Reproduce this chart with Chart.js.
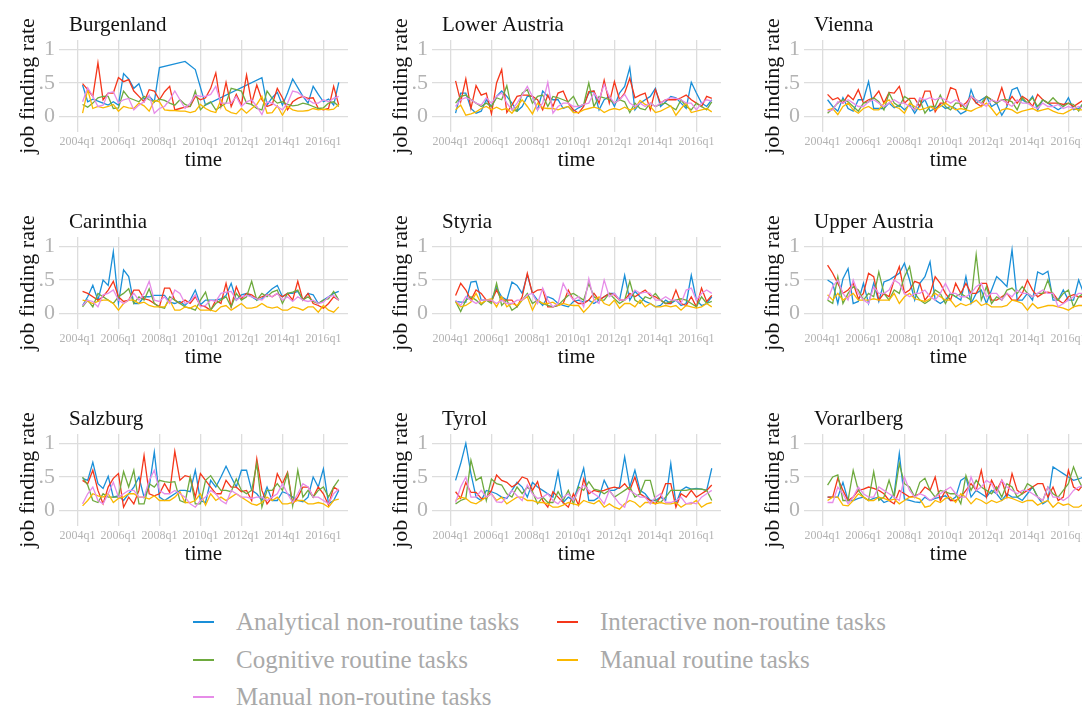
<!DOCTYPE html>
<html>
<head>
<meta charset="utf-8">
<title>Job finding rate by task type and region</title>
<script src="https://cdn.jsdelivr.net/npm/chart.js@4.4.1/dist/chart.umd.min.js"></script>
<style>
  body { margin: 0; background: #fff; width: 1082px; height: 706px; overflow: hidden; position: relative; font-family: 'Liberation Serif', serif; }
  canvas.panel { position: absolute; }
  .leg { position: absolute; display: flex; align-items: center; height: 34px; margin-top: -17px; font-size: 25px; color: #a9a9a9; white-space: nowrap; }
  .leg span.swatch { display: inline-block; width: 21px; height: 2px; margin-right: 22px; }
</style>
</head>
<body>
<script>
const regions = ['Burgenland', 'Lower Austria', 'Vienna', 'Carinthia', 'Styria', 'Upper Austria', 'Salzburg', 'Tyrol', 'Vorarlberg'];
const taskTypes = ['Analytical non-routine tasks', 'Interactive non-routine tasks', 'Cognitive routine tasks', 'Manual routine tasks', 'Manual non-routine tasks'];
const taskColors = ['#1a8fd8', '#f5361a', '#6eaa3e', '#fab800', '#e68ce8'];
const firstQuarter = '2004q2';
const xTickLabels = ['2004q1', '2006q1', '2008q1', '2010q1', '2012q1', '2014q1', '2016q1'];
const yTicks = [0, 0.5, 1];
const yTickLabels = ['0', '.5', '1'];

// Burgenland
const bgAnalytical = [0.47, 0.22, 0.26, 0.23, 0.20, 0.17, 0.22,
  0.17, 0.64, 0.56, 0.42, 0.49, 0.26, 0.30, 0.22,
  0.73, null, null, null, null, 0.82, null, 0.70,
  null, 0.17, null, null, null, null, null, null,
  null, null, null, null, 0.58, 0.17, 0.28, 0.36,
  0.17, 0.35, 0.56, 0.43, 0.30, 0.20, 0.45, 0.33,
  0.22, 0.26, 0.17, 0.51];
const bgInteractive = [0.49, 0.40, 0.30, 0.80, 0.25, 0.35, 0.35,
  0.58, 0.52, 0.55, 0.38, 0.30, 0.22, 0.40, 0.38,
  0.25, 0.37, 0.45, 0.10, 0.12, 0.14, 0.15, 0.30,
  0.25, 0.28, 0.42, 0.65, 0.15, 0.51, 0.15, 0.33,
  0.17, 0.62, 0.20, 0.47, 0.25, 0.15, 0.18, 0.42,
  0.28, 0.10, 0.22, 0.27, 0.30, 0.27, 0.28, 0.12,
  0.10, 0.12, 0.45, 0.17];
const bgCognitive = [0.18, 0.14, 0.20, 0.28, 0.30, 0.30, 0.12,
  0.13, 0.38, 0.28, 0.25, 0.22, 0.30, 0.25, 0.22,
  0.26, 0.24, 0.20, 0.17, 0.25, 0.18, 0.15, 0.38,
  0.10, 0.18, 0.22, 0.10, 0.15, 0.20, 0.42, 0.40,
  0.38, 0.20, 0.18, 0.12, 0.10, 0.38, 0.27, 0.20,
  0.22, 0.18, 0.16, 0.17, 0.20, 0.18, 0.15, 0.12,
  0.13, 0.20, 0.22, 0.15];
const bgManualRoutine = [0.05, 0.40, 0.12, 0.15, 0.13, 0.15, 0.18,
  0.08, 0.15, 0.13, 0.12, 0.20, 0.16, 0.08, 0.24,
  0.22, 0.10, 0.09, 0.09, 0.08, 0.08, 0.06, 0.08,
  0.18, 0.12, 0.08, 0.06, 0.25, 0.10, 0.06, 0.04,
  0.12, 0.05, 0.12, 0.18, 0.30, 0.05, 0.06, 0.16,
  0.02, 0.15, 0.10, 0.08, 0.08, 0.09, 0.12, 0.10,
  0.11, 0.10, 0.11, 0.18];
const bgManualNonRoutine = [0.22, 0.43, 0.30, 0.15, 0.17, 0.35, 0.37,
  0.20, 0.25, 0.27, 0.10, 0.17, 0.22, 0.32, 0.05,
  0.12, 0.15, 0.25, 0.38, 0.25, 0.12, 0.20, 0.32,
  0.30, 0.30, 0.33, 0.45, 0.20, 0.20, 0.20, 0.30,
  0.15, 0.22, 0.25, 0.15, 0.03, 0.22, 0.20, 0.15,
  0.10, 0.20, 0.38, 0.36, 0.30, 0.25, 0.20, 0.20,
  0.25, 0.22, 0.27, 0.30];

// Lower Austria
const loAnalytical = [0.05, 0.35, 0.35, 0.12, 0.05, 0.08, 0.25,
  0.15, 0.30, 0.38, 0.30, 0.20, 0.08, 0.15, 0.30,
  0.30, 0.10, 0.38, 0.30, 0.25, 0.25, 0.12, 0.15,
  0.08, 0.13, 0.17, 0.35, 0.38, 0.10, 0.25, 0.30,
  0.15, 0.35, 0.45, 0.73, 0.10, 0.20, 0.25, 0.30,
  0.42, 0.15, 0.22, 0.30, 0.28, 0.20, 0.12, 0.51,
  0.35, 0.20, 0.15, 0.25];
const loInteractive = [0.53, 0.22, 0.56, 0.12, 0.46, 0.32, 0.35,
  0.04, 0.50, 0.70, 0.06, 0.17, 0.30, 0.32, 0.32,
  0.30, 0.25, 0.10, 0.32, 0.15, 0.35, 0.38, 0.20,
  0.10, 0.05, 0.15, 0.37, 0.38, 0.20, 0.54, 0.20,
  0.52, 0.25, 0.35, 0.57, 0.28, 0.32, 0.35, 0.10,
  0.40, 0.20, 0.25, 0.25, 0.25, 0.28, 0.32, 0.25,
  0.20, 0.15, 0.30, 0.27];
const loCognitive = [0.20, 0.30, 0.32, 0.25, 0.20, 0.15, 0.20,
  0.15, 0.28, 0.25, 0.46, 0.10, 0.08, 0.35, 0.40,
  0.20, 0.30, 0.32, 0.15, 0.30, 0.28, 0.25, 0.22,
  0.30, 0.15, 0.18, 0.50, 0.15, 0.30, 0.28, 0.25,
  0.20, 0.25, 0.22, 0.06, 0.20, 0.12, 0.10, 0.20,
  0.15, 0.18, 0.20, 0.15, 0.10, 0.25, 0.15, 0.10,
  0.20, 0.15, 0.10, 0.22];
const loManualRoutine = [0.10, 0.17, 0.02, 0.04, 0.07, 0.12, 0.15,
  0.10, 0.14, 0.10, 0.12, 0.05, 0.15, 0.25, 0.15,
  0.04, 0.20, 0.13, 0.12, 0.12, 0.10, 0.13, 0.15,
  0.06, 0.06, 0.10, 0.12, 0.14, 0.12, 0.06, 0.10,
  0.12, 0.10, 0.14, 0.10, 0.12, 0.24, 0.18, 0.15,
  0.06, 0.08, 0.12, 0.16, 0.02, 0.12, 0.20, 0.06,
  0.08, 0.10, 0.12, 0.07];
const loManualNonRoutine = [0.15, 0.25, 0.28, 0.25, 0.20, 0.17, 0.28,
  0.20, 0.30, 0.35, 0.20, 0.10, 0.20, 0.32, 0.45,
  0.30, 0.10, 0.20, 0.51, 0.05, 0.15, 0.20, 0.20,
  0.15, 0.15, 0.18, 0.20, 0.35, 0.25, 0.48, 0.30,
  0.20, 0.25, 0.33, 0.20, 0.15, 0.20, 0.15, 0.20,
  0.15, 0.20, 0.25, 0.28, 0.27, 0.25, 0.20, 0.20,
  0.10, 0.20, 0.25, 0.23];

// Vienna
const viAnalytical = [0.25, 0.15, 0.08, 0.28, 0.12, 0.08, 0.25,
  0.25, 0.52, 0.12, 0.12, 0.12, 0.20, 0.13, 0.17,
  0.10, 0.18, 0.05, 0.17, 0.25, 0.08, 0.12, 0.18,
  0.12, 0.15, 0.12, 0.04, 0.08, 0.40, 0.20, 0.25,
  0.30, 0.15, 0.20, 0.02, 0.15, 0.40, 0.43, 0.25,
  0.20, 0.30, 0.10, 0.25, 0.20, 0.15, 0.10, 0.15,
  0.28, 0.10, 0.12, 0.20];
const viInteractive = [0.33, 0.25, 0.28, 0.20, 0.32, 0.25, 0.40,
  0.20, 0.25, 0.28, 0.38, 0.20, 0.36, 0.35, 0.45,
  0.20, 0.27, 0.27, 0.15, 0.38, 0.38, 0.07, 0.20,
  0.20, 0.43, 0.40, 0.15, 0.20, 0.30, 0.20, 0.15,
  0.30, 0.25, 0.20, 0.43, 0.18, 0.30, 0.20, 0.30,
  0.25, 0.15, 0.33, 0.25, 0.20, 0.20, 0.20, 0.18,
  0.20, 0.15, 0.20, 0.25];
const viCognitive = [0.05, 0.12, 0.20, 0.25, 0.22, 0.15, 0.08,
  0.20, 0.22, 0.28, 0.22, 0.10, 0.35, 0.20, 0.15,
  0.30, 0.25, 0.10, 0.25, 0.05, 0.15, 0.15, 0.32,
  0.15, 0.10, 0.20, 0.20, 0.10, 0.30, 0.25, 0.20,
  0.30, 0.25, 0.20, 0.25, 0.25, 0.22, 0.10, 0.28,
  0.20, 0.28, 0.15, 0.25, 0.20, 0.28, 0.20, 0.15,
  0.20, 0.18, 0.08, 0.22];
const viManualRoutine = [0.10, 0.12, 0.03, 0.15, 0.20, 0.10, 0.05,
  0.12, 0.15, 0.10, 0.10, 0.20, 0.25, 0.15, 0.12,
  0.05, 0.20, 0.15, 0.10, 0.12, 0.15, 0.10, 0.15,
  0.20, 0.15, 0.10, 0.12, 0.10, 0.08, 0.12, 0.15,
  0.20, 0.12, 0.02, 0.10, 0.12, 0.10, 0.05, 0.08,
  0.10, 0.12, 0.08, 0.10, 0.12, 0.08, 0.05, 0.04,
  0.08, 0.12, 0.10, 0.10];
const viManualNonRoutine = [0.08, 0.10, 0.22, 0.20, 0.25, 0.20, 0.15,
  0.15, 0.22, 0.25, 0.20, 0.15, 0.20, 0.25, 0.20,
  0.20, 0.15, 0.10, 0.28, 0.25, 0.28, 0.25, 0.28,
  0.25, 0.20, 0.25, 0.20, 0.15, 0.30, 0.25, 0.20,
  0.15, 0.25, 0.22, 0.25, 0.20, 0.15, 0.25, 0.20,
  0.20, 0.15, 0.12, 0.20, 0.15, 0.15, 0.18, 0.12,
  0.15, 0.12, 0.15, 0.12];

// Carinthia
const caAnalytical = [0.12, 0.25, 0.42, 0.20, 0.50, 0.42, 0.92,
  0.15, 0.65, 0.55, 0.15, 0.15, 0.25, 0.25, 0.27,
  0.27, 0.27, 0.17, 0.15, 0.18, 0.12, 0.20, 0.35,
  0.13, 0.20, 0.20, 0.20, 0.22, 0.27, 0.45, 0.20,
  0.28, 0.30, 0.25, 0.20, 0.22, 0.30, 0.37, 0.42,
  0.25, 0.30, 0.30, 0.33, 0.20, 0.30, 0.28, 0.15,
  0.20, 0.25, 0.30, 0.33];
const caInteractive = [0.33, 0.30, 0.25, 0.20, 0.25, 0.35, 0.48,
  0.25, 0.18, 0.20, 0.35, 0.35, 0.22, 0.20, 0.15,
  0.10, 0.38, 0.38, 0.20, 0.15, 0.20, 0.15, 0.25,
  0.12, 0.10, 0.05, 0.20, 0.15, 0.45, 0.10, 0.40,
  0.22, 0.30, 0.28, 0.22, 0.25, 0.28, 0.25, 0.30,
  0.25, 0.30, 0.20, 0.48, 0.20, 0.30, 0.15, 0.12,
  0.08, 0.15, 0.25, 0.20];
const caCognitive = [0.10, 0.20, 0.10, 0.30, 0.25, 0.20, 0.15,
  0.25, 0.30, 0.37, 0.15, 0.25, 0.20, 0.37, 0.15,
  0.10, 0.08, 0.25, 0.20, 0.15, 0.10, 0.08, 0.05,
  0.20, 0.32, 0.05, 0.15, 0.20, 0.25, 0.10, 0.30,
  0.20, 0.25, 0.48, 0.20, 0.30, 0.25, 0.32, 0.35,
  0.15, 0.30, 0.32, 0.35, 0.20, 0.25, 0.18, 0.15,
  0.20, 0.22, 0.33, 0.20];
const caManualRoutine = [0.20, 0.18, 0.15, 0.18, 0.20, 0.20, 0.15,
  0.05, 0.15, 0.20, 0.20, 0.15, 0.17, 0.12, 0.10,
  0.10, 0.10, 0.20, 0.05, 0.05, 0.10, 0.08, 0.12,
  0.05, 0.05, 0.05, 0.03, 0.10, 0.12, 0.05, 0.10,
  0.15, 0.08, 0.08, 0.10, 0.15, 0.10, 0.08, 0.10,
  0.05, 0.05, 0.10, 0.08, 0.05, 0.10, 0.10, 0.02,
  0.12, 0.05, 0.02, 0.10];
const caManualNonRoutine = [0.12, 0.20, 0.18, 0.10, 0.28, 0.30, 0.35,
  0.20, 0.15, 0.20, 0.30, 0.20, 0.30, 0.48, 0.20,
  0.18, 0.25, 0.15, 0.35, 0.30, 0.15, 0.18, 0.28,
  0.10, 0.12, 0.20, 0.18, 0.30, 0.32, 0.33, 0.20,
  0.25, 0.27, 0.25, 0.22, 0.20, 0.28, 0.25, 0.30,
  0.20, 0.25, 0.18, 0.25, 0.20, 0.18, 0.20, 0.15,
  0.17, 0.25, 0.27, 0.20];

// Styria
const stAnalytical = [0.18, 0.17, 0.17, 0.47, 0.48, 0.20, 0.20,
  0.20, 0.38, 0.25, 0.20, 0.47, 0.42, 0.30, 0.58,
  0.30, 0.20, 0.12, 0.25, 0.22, 0.15, 0.12, 0.10,
  0.18, 0.20, 0.17, 0.20, 0.15, 0.20, 0.25, 0.30,
  0.30, 0.20, 0.57, 0.20, 0.33, 0.25, 0.18, 0.15,
  0.10, 0.12, 0.20, 0.15, 0.20, 0.12, 0.15, 0.57,
  0.20, 0.12, 0.15, 0.25];
const stInteractive = [0.27, 0.45, 0.35, 0.20, 0.35, 0.30, 0.20,
  0.18, 0.35, 0.20, 0.20, 0.20, 0.10, 0.25, 0.60,
  0.30, 0.35, 0.36, 0.10, 0.10, 0.12, 0.15, 0.35,
  0.20, 0.15, 0.15, 0.20, 0.30, 0.20, 0.25, 0.30,
  0.28, 0.20, 0.20, 0.30, 0.25, 0.30, 0.35, 0.27,
  0.25, 0.20, 0.15, 0.15, 0.35, 0.15, 0.12, 0.25,
  0.10, 0.38, 0.18, 0.27];
const stCognitive = [0.18, 0.03, 0.20, 0.25, 0.20, 0.13, 0.20,
  0.15, 0.45, 0.12, 0.20, 0.05, 0.10, 0.20, 0.30,
  0.15, 0.20, 0.15, 0.12, 0.10, 0.12, 0.20, 0.27,
  0.30, 0.25, 0.20, 0.45, 0.25, 0.20, 0.20, 0.30,
  0.22, 0.15, 0.20, 0.48, 0.20, 0.15, 0.25, 0.22,
  0.30, 0.20, 0.15, 0.18, 0.20, 0.22, 0.20, 0.15,
  0.10, 0.25, 0.15, 0.18];
const stManualRoutine = [0.17, 0.10, 0.12, 0.17, 0.30, 0.15, 0.20,
  0.22, 0.10, 0.25, 0.10, 0.15, 0.12, 0.20, 0.25,
  0.05, 0.20, 0.15, 0.15, 0.17, 0.12, 0.15, 0.13,
  0.12, 0.12, 0.02, 0.10, 0.20, 0.25, 0.15, 0.12,
  0.20, 0.08, 0.15, 0.15, 0.10, 0.20, 0.10, 0.15,
  0.10, 0.10, 0.12, 0.10, 0.12, 0.05, 0.12, 0.10,
  0.08, 0.10, 0.15, 0.10];
const stManualNonRoutine = [0.20, 0.12, 0.25, 0.20, 0.15, 0.20, 0.20,
  0.20, 0.15, 0.20, 0.15, 0.15, 0.20, 0.20, 0.28,
  0.30, 0.15, 0.38, 0.20, 0.10, 0.15, 0.45, 0.30,
  0.20, 0.25, 0.10, 0.52, 0.20, 0.15, 0.50, 0.25,
  0.30, 0.20, 0.20, 0.25, 0.35, 0.30, 0.32, 0.30,
  0.20, 0.20, 0.25, 0.20, 0.20, 0.15, 0.35, 0.38,
  0.20, 0.30, 0.35, 0.30];

// Upper Austria
const uaAnalytical = [0.50, 0.45, 0.15, 0.52, 0.67, 0.15, 0.18,
  0.45, 0.15, 0.45, 0.18, 0.47, 0.50, 0.55, 0.60,
  0.75, 0.50, 0.20, 0.45, 0.55, 0.77, 0.20, 0.15,
  0.20, 0.30, 0.25, 0.20, 0.55, 0.15, 0.30, 0.35,
  0.15, 0.35, 0.55, 0.48, 0.40, 0.95, 0.20, 0.20,
  0.30, 0.20, 0.62, 0.58, 0.63, 0.20, 0.20, 0.35,
  0.20, 0.20, 0.50, 0.30];
const uaInteractive = [0.72, 0.60, 0.45, 0.30, 0.35, 0.45, 0.22,
  0.30, 0.60, 0.55, 0.20, 0.30, 0.25, 0.50, 0.70,
  0.30, 0.35, 0.48, 0.45, 0.20, 0.30, 0.55, 0.45,
  0.30, 0.20, 0.45, 0.30, 0.45, 0.30, 0.30, 0.45,
  0.45, 0.20, 0.20, 0.25, 0.30, 0.20, 0.20, 0.30,
  0.50, 0.35, 0.25, 0.30, 0.32, 0.30, 0.20, 0.15,
  0.25, 0.28, 0.25, 0.25];
const uaCognitive = [0.20, 0.15, 0.55, 0.15, 0.30, 0.40, 0.35,
  0.20, 0.30, 0.25, 0.62, 0.30, 0.20, 0.35, 0.30,
  0.55, 0.70, 0.30, 0.20, 0.15, 0.20, 0.35, 0.30,
  0.15, 0.30, 0.25, 0.30, 0.25, 0.20, 0.88, 0.20,
  0.40, 0.15, 0.25, 0.20, 0.35, 0.38, 0.30, 0.40,
  0.30, 0.25, 0.30, 0.30, 0.50, 0.25, 0.20, 0.30,
  0.35, 0.10, 0.25, 0.30];
const uaManualRoutine = [0.28, 0.20, 0.30, 0.20, 0.25, 0.30, 0.20,
  0.20, 0.20, 0.22, 0.20, 0.20, 0.20, 0.30, 0.15,
  0.25, 0.30, 0.22, 0.20, 0.18, 0.22, 0.30, 0.25,
  0.20, 0.20, 0.10, 0.15, 0.12, 0.15, 0.20, 0.12,
  0.15, 0.10, 0.10, 0.10, 0.12, 0.20, 0.18, 0.15,
  0.05, 0.15, 0.08, 0.10, 0.12, 0.12, 0.10, 0.08,
  0.05, 0.10, 0.12, 0.12];
const uaManualNonRoutine = [0.20, 0.40, 0.50, 0.30, 0.20, 0.50, 0.30,
  0.20, 0.15, 0.40, 0.30, 0.30, 0.35, 0.50, 0.45,
  0.30, 0.25, 0.30, 0.30, 0.35, 0.25, 0.20, 0.30,
  0.45, 0.30, 0.30, 0.25, 0.25, 0.30, 0.40, 0.45,
  0.25, 0.30, 0.30, 0.20, 0.30, 0.25, 0.35, 0.30,
  0.30, 0.25, 0.30, 0.35, 0.30, 0.30, 0.10, 0.15,
  0.20, 0.25, 0.30, 0.30];

// Salzburg
const saAnalytical = [0.48, 0.45, 0.72, 0.40, 0.33, 0.51, 0.20,
  0.22, 0.15, 0.25, 0.35, 0.50, 0.20, 0.35, 0.87,
  0.20, 0.15, 0.20, 0.25, 0.30, 0.30, 0.28, 0.60,
  0.15, 0.12, 0.45, 0.35, 0.50, 0.66, 0.50, 0.35,
  0.60, 0.60, 0.30, 0.25, 0.15, 0.35, 0.15, 0.15,
  0.28, 0.25, 0.20, 0.15, 0.13, 0.20, 0.50, 0.35,
  0.62, 0.10, 0.15, 0.30];
const saInteractive = [0.45, 0.40, 0.60, 0.30, 0.10, 0.35, 0.48,
  0.55, 0.05, 0.20, 0.10, 0.30, 0.82, 0.25, 0.22,
  0.25, 0.40, 0.27, 0.88, 0.45, 0.52, 0.50, 0.20,
  0.55, 0.45, 0.35, 0.25, 0.25, 0.45, 0.35, 0.35,
  0.28, 0.30, 0.15, 0.77, 0.30, 0.10, 0.20, 0.55,
  0.40, 0.57, 0.10, 0.20, 0.35, 0.35, 0.20, 0.35,
  0.25, 0.08, 0.35, 0.30];
const saCognitive = [0.50, 0.38, 0.15, 0.12, 0.25, 0.20, 0.20,
  0.20, 0.58, 0.35, 0.60, 0.10, 0.10, 0.40, 0.35,
  0.45, 0.43, 0.42, 0.43, 0.15, 0.12, 0.50, 0.10,
  0.10, 0.45, 0.52, 0.40, 0.30, 0.30, 0.28, 0.47,
  0.30, 0.25, 0.30, 0.70, 0.05, 0.30, 0.30, 0.40,
  0.30, 0.55, 0.07, 0.60, 0.20, 0.30, 0.20, 0.30,
  0.35, 0.20, 0.35, 0.46];
const saManualRoutine = [0.07, 0.15, 0.25, 0.22, 0.20, 0.25, 0.12,
  0.18, 0.20, 0.25, 0.25, 0.20, 0.20, 0.17, 0.22,
  0.15, 0.15, 0.15, 0.20, 0.28, 0.12, 0.12, 0.15,
  0.25, 0.08, 0.25, 0.15, 0.20, 0.15, 0.20, 0.25,
  0.20, 0.15, 0.10, 0.08, 0.12, 0.20, 0.15, 0.20,
  0.10, 0.10, 0.12, 0.15, 0.15, 0.10, 0.10, 0.12,
  0.10, 0.05, 0.15, 0.17];
const saManualNonRoutine = [0.10, 0.25, 0.35, 0.15, 0.10, 0.25, 0.42,
  0.20, 0.25, 0.30, 0.30, 0.20, 0.20, 0.45, 0.60,
  0.30, 0.25, 0.25, 0.30, 0.25, 0.20, 0.10, 0.05,
  0.15, 0.20, 0.30, 0.25, 0.15, 0.10, 0.30, 0.25,
  0.20, 0.20, 0.18, 0.20, 0.20, 0.15, 0.20, 0.25,
  0.40, 0.25, 0.12, 0.25, 0.40, 0.35, 0.20, 0.20,
  0.15, 0.10, 0.25, 0.32];

// Tyrol
const tyAnalytical = [0.45, 0.70, 1.00, 0.55, 0.20, 0.15, 0.30,
  0.28, 0.25, 0.20, 0.18, 0.30, 0.42, 0.35, 0.20,
  0.42, 0.35, 0.30, 0.25, 0.20, 0.58, 0.12, 0.20,
  0.15, 0.38, 0.63, 0.15, 0.15, 0.20, 0.45, 0.30,
  0.30, 0.35, 0.80, 0.35, 0.60, 0.30, 0.25, 0.15,
  0.15, 0.20, 0.15, 0.70, 0.10, 0.30, 0.35, 0.32,
  0.33, 0.32, 0.30, 0.63];
const tyInteractive = [0.28, 0.18, 0.42, 0.27, 0.27, 0.18, 0.18,
  0.30, 0.53, 0.45, 0.42, 0.35, 0.40, 0.50, 0.47,
  0.30, 0.43, 0.15, 0.05, 0.28, 0.20, 0.12, 0.05,
  0.25, 0.08, 0.47, 0.25, 0.30, 0.28, 0.30, 0.33,
  0.35, 0.33, 0.40, 0.30, 0.50, 0.25, 0.20, 0.15,
  0.10, 0.20, 0.40, 0.40, 0.05, 0.25, 0.20, 0.30,
  0.20, 0.25, 0.30, 0.38];
const tyCognitive = [0.10, 0.15, 0.18, 0.75, 0.45, 0.50, 0.15,
  0.47, 0.40, 0.38, 0.25, 0.20, 0.35, 0.25, 0.35,
  0.28, 0.10, 0.20, 0.12, 0.12, 0.28, 0.15, 0.30,
  0.10, 0.35, 0.30, 0.43, 0.32, 0.30, 0.25, 0.30,
  0.20, 0.25, 0.30, 0.35, 0.20, 0.25, 0.45, 0.45,
  0.15, 0.12, 0.20, 0.30, 0.30, 0.30, 0.30, 0.32,
  0.32, 0.32, 0.30, 0.15];
const tyManualRoutine = [0.15, 0.20, 0.18, 0.12, 0.10, 0.15, 0.20,
  0.25, 0.15, 0.20, 0.10, 0.15, 0.20, 0.20, 0.15,
  0.15, 0.12, 0.12, 0.10, 0.05, 0.05, 0.08, 0.12,
  0.10, 0.08, 0.15, 0.12, 0.10, 0.15, 0.05, 0.10,
  0.05, 0.02, 0.10, 0.15, 0.12, 0.05, 0.12, 0.12,
  0.10, 0.12, 0.10, 0.10, 0.12, 0.05, 0.10, 0.10,
  0.15, 0.05, 0.10, 0.12];
const tyManualNonRoutine = [0.12, 0.35, 0.50, 0.20, 0.20, 0.30, 0.20,
  0.25, 0.13, 0.12, 0.20, 0.30, 0.22, 0.15, 0.38,
  0.25, 0.18, 0.20, 0.25, 0.15, 0.10, 0.20, 0.25,
  0.15, 0.30, 0.38, 0.30, 0.25, 0.20, 0.10, 0.30,
  0.20, 0.10, 0.05, 0.30, 0.25, 0.20, 0.20, 0.10,
  0.20, 0.25, 0.12, 0.12, 0.15, 0.20, 0.10, 0.12,
  0.10, 0.20, 0.25, 0.30];

// Vorarlberg
const voAnalytical = [0.20, 0.20, 0.20, 0.42, 0.15, 0.15, 0.18,
  0.20, 0.15, 0.18, 0.20, 0.12, 0.15, 0.25, 0.85,
  0.17, 0.15, 0.13, 0.12, 0.20, 0.15, 0.18, 0.20,
  0.22, 0.15, 0.20, 0.45, 0.50, 0.20, 0.30, 0.25,
  0.20, 0.30, 0.25, 0.15, 0.25, 0.20, 0.20, 0.15,
  0.25, 0.35, 0.20, 0.10, 0.15, 0.65, 0.60, 0.55,
  0.50, 0.45, 0.47, 0.50];
const voInteractive = [0.20, 0.20, 0.48, 0.30, 0.15, 0.20, 0.30,
  0.32, 0.35, 0.33, 0.30, 0.25, 0.15, 0.10, 0.30,
  0.25, 0.20, 0.22, 0.25, 0.35, 0.30, 0.50, 0.15,
  0.30, 0.15, 0.15, 0.20, 0.30, 0.40, 0.30, 0.60,
  0.20, 0.45, 0.30, 0.45, 0.20, 0.55, 0.30, 0.25,
  0.30, 0.35, 0.40, 0.40, 0.20, 0.35, 0.15, 0.20,
  0.60, 0.35, 0.30, 0.40];
const voCognitive = [0.38, 0.50, 0.53, 0.15, 0.15, 0.60, 0.30,
  0.20, 0.15, 0.58, 0.15, 0.20, 0.45, 0.20, 0.70,
  0.40, 0.35, 0.20, 0.42, 0.48, 0.30, 0.20, 0.30,
  0.28, 0.25, 0.25, 0.10, 0.52, 0.30, 0.45, 0.35,
  0.30, 0.25, 0.35, 0.20, 0.40, 0.35, 0.20, 0.25,
  0.40, 0.35, 0.20, 0.15, 0.35, 0.25, 0.20, 0.30,
  0.40, 0.65, 0.45, 0.30];
const voManualRoutine = [0.15, 0.20, 0.20, 0.08, 0.07, 0.15, 0.25,
  0.20, 0.15, 0.15, 0.20, 0.18, 0.15, 0.17, 0.10,
  0.15, 0.20, 0.20, 0.17, 0.05, 0.07, 0.15, 0.12,
  0.18, 0.20, 0.12, 0.25, 0.20, 0.10, 0.18, 0.15,
  0.10, 0.15, 0.12, 0.15, 0.20, 0.18, 0.15, 0.12,
  0.15, 0.15, 0.08, 0.12, 0.15, 0.05, 0.12, 0.08,
  0.10, 0.05, 0.05, 0.10];
const voManualNonRoutine = [0.12, 0.12, 0.35, 0.25, 0.10, 0.20, 0.35,
  0.25, 0.20, 0.20, 0.35, 0.30, 0.25, 0.20, 0.15,
  0.50, 0.30, 0.20, 0.25, 0.22, 0.15, 0.20, 0.25,
  0.30, 0.35, 0.25, 0.20, 0.20, 0.50, 0.30, 0.35,
  0.45, 0.40, 0.25, 0.45, 0.35, 0.30, 0.25, 0.30,
  0.30, 0.25, 0.20, 0.15, 0.35, 0.20, 0.20, 0.15,
  0.20, 0.30, 0.35, 0.38];

// series per region, in the order of taskTypes
const panelSeries = [
  [bgAnalytical, bgInteractive, bgCognitive, bgManualRoutine, bgManualNonRoutine],
  [loAnalytical, loInteractive, loCognitive, loManualRoutine, loManualNonRoutine],
  [viAnalytical, viInteractive, viCognitive, viManualRoutine, viManualNonRoutine],
  [caAnalytical, caInteractive, caCognitive, caManualRoutine, caManualNonRoutine],
  [stAnalytical, stInteractive, stCognitive, stManualRoutine, stManualNonRoutine],
  [uaAnalytical, uaInteractive, uaCognitive, uaManualRoutine, uaManualNonRoutine],
  [saAnalytical, saInteractive, saCognitive, saManualRoutine, saManualNonRoutine],
  [tyAnalytical, tyInteractive, tyCognitive, tyManualRoutine, tyManualNonRoutine],
  [voAnalytical, voInteractive, voCognitive, voManualRoutine, voManualNonRoutine]
];

const serif = "'Liberation Serif', 'DejaVu Serif', serif";

// quarters counted from 2004q1
function quarterIndex(label) {
  const year = parseInt(label.slice(0, 4));
  const q = parseInt(label.slice(5));
  return (year - 2004) * 4 + (q - 1);
}
const startIndex = quarterIndex(firstQuarter);

const panelTitle = {
  id: 'panelTitle',
  afterDraw(chart, args, opts) {
    const ctx = chart.ctx;
    ctx.save();
    ctx.font = '21px ' + serif;
    ctx.fillStyle = '#111';
    ctx.textBaseline = 'alphabetic';
    ctx.textAlign = 'left';
    ctx.fillText(opts.text, chart.chartArea.left + 10, 31);
    ctx.restore();
  }
};

regions.forEach(function(region, r) {
  const col = r % 3;
  const row = Math.floor(r / 3);
  const canvas = document.createElement('canvas');
  canvas.className = 'panel';
  canvas.width = 372;
  canvas.height = 197;
  canvas.style.left = Math.round(col * 372.5) + 'px';
  canvas.style.top = Math.round(row * 197.15) + 'px';
  document.body.appendChild(canvas);

  const datasets = taskTypes.map(function(name, s) {
    return {
      label: name,
      data: panelSeries[r][s].map((v, k) => ({x: startIndex + k, y: v})),
      borderColor: taskColors[s],
      backgroundColor: taskColors[s],
      borderWidth: 1.3,
      pointRadius: 0,
      tension: 0,
      spanGaps: true,
      order: taskTypes.length - s
    };
  });

  new Chart(canvas, {
    type: 'line',
    data: {datasets: datasets},
    options: {
      responsive: false,
      animation: false,
      layout: {padding: {top: 40, right: 24, bottom: 24, left: 0}},
      plugins: {
        legend: {display: false},
        tooltip: {enabled: false},
        panelTitle: {text: region}
      },
      scales: {
        x: {
          type: 'linear',
          min: -3.6,
          max: 52.8,
          afterBuildTicks: function(scale) {
            scale.ticks = xTickLabels.map(l => ({value: quarterIndex(l)}));
          },
          afterFit: function(scale) { scale.height = 41; },
          grid: {color: '#dddddd', lineWidth: 1.3, drawTicks: false},
          border: {display: false},
          ticks: {
            padding: 3, maxRotation: 0, autoSkip: false, color: '#b3b3b3',
            font: {family: serif, size: 12},
            callback: function(v) { return xTickLabels.find(l => quarterIndex(l) === v); }
          },
          title: {display: true, text: 'time', color: '#111', font: {family: serif, size: 21}, padding: 0}
        },
        y: {
          min: -0.23,
          max: 1.14,
          afterBuildTicks: function(scale) {
            scale.ticks = yTicks.map(v => ({value: v}));
          },
          afterFit: function(scale) { scale.width = 59; },
          grid: {color: '#dddddd', lineWidth: 1.3, drawTicks: false},
          border: {display: false},
          ticks: {
            padding: 4, color: '#b3b3b3',
            font: {family: serif, size: 22},
            callback: function(v) { return yTickLabels[yTicks.indexOf(v)]; }
          },
          title: {display: true, text: 'job finding rate', color: '#111', font: {family: serif, size: 22}, padding: {top: 15, bottom: 0}}
        }
      }
    },
    plugins: [panelTitle]
  });
});

// legend below the panels
taskTypes.forEach(function(name, s) {
  const item = document.createElement('div');
  item.className = 'leg';
  item.style.left = (193 + (s % 2) * 364) + 'px';
  item.style.top = (622 + Math.floor(s / 2) * 37.5) + 'px';
  const swatch = document.createElement('span');
  swatch.className = 'swatch';
  swatch.style.background = taskColors[s];
  item.appendChild(swatch);
  item.appendChild(document.createTextNode(name));
  document.body.appendChild(item);
});
</script>
</body>
</html>
